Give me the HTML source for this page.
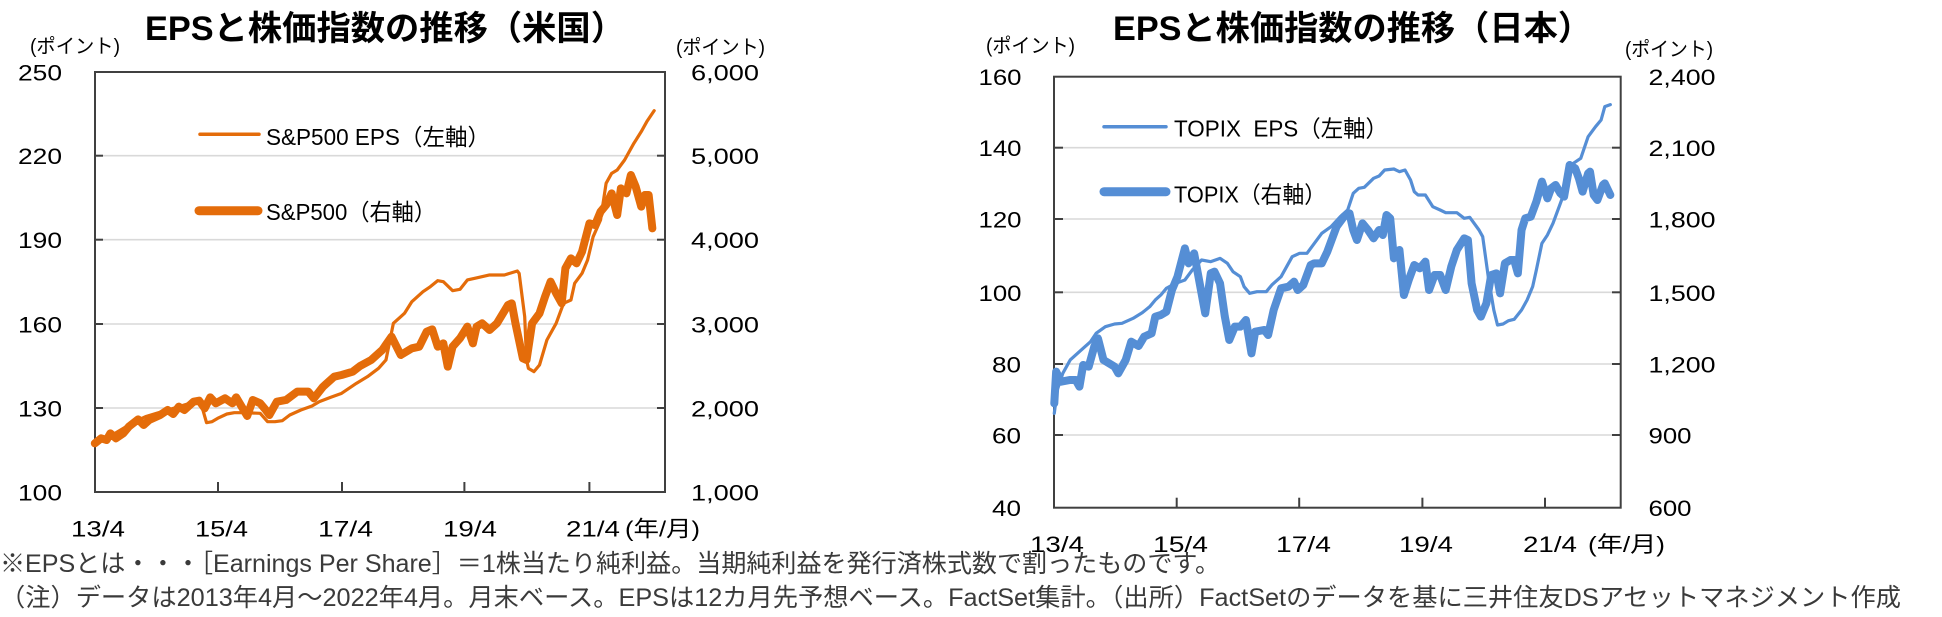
<!DOCTYPE html>
<html>
<head>
<meta charset="utf-8">
<style>
html,body{margin:0;padding:0;background:#fff;}
svg{display:block;}
text{font-family:"Liberation Sans","Noto Sans CJK JP",sans-serif;}
</style>
</head>
<body>
<svg width="1942" height="617" viewBox="0 0 1942 617" xmlns="http://www.w3.org/2000/svg">
<rect width="1942" height="617" fill="#fff"/>

<!-- ========== LEFT CHART ========== -->
<text x="145" y="40" font-size="34" font-weight="bold" fill="#000" textLength="480" lengthAdjust="spacingAndGlyphs">EPSと株価指数の推移（米国）</text>
<text x="30" y="53" font-size="20" fill="#000" textLength="90" lengthAdjust="spacingAndGlyphs">(ポイント)</text>
<text x="676" y="54" font-size="20" fill="#000" textLength="89" lengthAdjust="spacingAndGlyphs">(ポイント)</text>

<!-- gridlines -->
<g stroke="#D9D9D9" stroke-width="1.6">
<line x1="95" y1="155.7" x2="665" y2="155.7"/>
<line x1="95" y1="239.7" x2="665" y2="239.7"/>
<line x1="95" y1="324" x2="665" y2="324"/>
<line x1="95" y1="408" x2="665" y2="408"/>
</g>
<!-- ticks -->
<g stroke="#404040" stroke-width="2">
<line x1="95" y1="155.7" x2="103" y2="155.7"/>
<line x1="95" y1="239.7" x2="103" y2="239.7"/>
<line x1="95" y1="324" x2="103" y2="324"/>
<line x1="95" y1="408" x2="103" y2="408"/>
<line x1="657" y1="155.7" x2="665" y2="155.7"/>
<line x1="657" y1="239.7" x2="665" y2="239.7"/>
<line x1="657" y1="324" x2="665" y2="324"/>
<line x1="657" y1="408" x2="665" y2="408"/>
<line x1="218" y1="482" x2="218" y2="492"/>
<line x1="342" y1="482" x2="342" y2="492"/>
<line x1="464.4" y1="482" x2="464.4" y2="492"/>
<line x1="589.4" y1="482" x2="589.4" y2="492"/>
</g>
<rect x="95" y="72" width="570" height="420" fill="none" stroke="#404040" stroke-width="2"/>

<!-- left axis labels -->
<g font-size="22" fill="#000">
<text x="18" y="80.5" textLength="44" lengthAdjust="spacingAndGlyphs">250</text>
<text x="18" y="164.2" textLength="44" lengthAdjust="spacingAndGlyphs">220</text>
<text x="18" y="248.2" textLength="44" lengthAdjust="spacingAndGlyphs">190</text>
<text x="18" y="332.5" textLength="44" lengthAdjust="spacingAndGlyphs">160</text>
<text x="18" y="416.5" textLength="44" lengthAdjust="spacingAndGlyphs">130</text>
<text x="18" y="500.5" textLength="44" lengthAdjust="spacingAndGlyphs">100</text>
<text x="691" y="80.5" textLength="68" lengthAdjust="spacingAndGlyphs">6,000</text>
<text x="691" y="164.2" textLength="68" lengthAdjust="spacingAndGlyphs">5,000</text>
<text x="691" y="248.2" textLength="68" lengthAdjust="spacingAndGlyphs">4,000</text>
<text x="691" y="332.5" textLength="68" lengthAdjust="spacingAndGlyphs">3,000</text>
<text x="691" y="416.5" textLength="68" lengthAdjust="spacingAndGlyphs">2,000</text>
<text x="691" y="500.5" textLength="68" lengthAdjust="spacingAndGlyphs">1,000</text>
<text x="71" y="536.5" textLength="54" lengthAdjust="spacingAndGlyphs">13/4</text>
<text x="195" y="536.5" textLength="53" lengthAdjust="spacingAndGlyphs">15/4</text>
<text x="318" y="536.5" textLength="55" lengthAdjust="spacingAndGlyphs">17/4</text>
<text x="443" y="536.5" textLength="54" lengthAdjust="spacingAndGlyphs">19/4</text>
<text x="566" y="536.5" textLength="54" lengthAdjust="spacingAndGlyphs">21/4</text>
<text x="625" y="536.5" textLength="75" lengthAdjust="spacingAndGlyphs">(年/月)</text>
</g>

<!-- left series -->
<g transform="translate(90,60) scale(0.36996,0.33333)" fill="none" stroke="#E46C0A" stroke-linejoin="round" stroke-linecap="round">
<polyline vector-effect="non-scaling-stroke" stroke-width="8" points="13,1150 30,1135 45,1140 55,1120 70,1135 90,1120 105,1100 130,1078 145,1095 160,1080 190,1065 210,1050 225,1062 240,1040 255,1050 280,1025 295,1022 310,1045 325,1012 340,1030 365,1015 385,1030 395,1012 410,1040 425,1068 440,1020 460,1030 475,1050 485,1065 505,1025 530,1020 560,995 590,995 605,1015 630,980 660,950 680,945 710,935 730,918 760,900 790,870 815,830 840,885 870,865 890,860 910,815 925,808 940,860 955,850 967,920 980,860 1000,835 1020,800 1035,850 1045,800 1060,790 1080,810 1100,790 1130,735 1140,730 1150,790 1170,895 1180,900 1195,790 1215,760 1230,710 1245,665 1260,700 1275,730 1285,625 1300,595 1315,610 1330,575 1350,490 1365,495 1380,455 1395,435 1410,400 1425,465 1435,385 1450,400 1462,345 1475,380 1490,440 1500,405 1510,405 1520,505"/>
<polyline vector-effect="non-scaling-stroke" stroke-width="3.2" points="13,1150 40,1135 60,1125 90,1105 120,1085 150,1070 180,1060 210,1050 240,1040 270,1030 290,1025 300,1030 315,1088 330,1085 345,1075 370,1062 390,1058 420,1058 460,1060 480,1085 500,1085 520,1082 540,1065 570,1050 600,1038 620,1025 650,1012 680,1000 700,985 720,970 750,950 780,925 800,900 820,790 840,770 850,760 870,725 900,695 920,680 940,662 955,665 980,692 1000,688 1020,660 1040,655 1080,645 1120,645 1155,633 1160,640 1175,770 1180,900 1185,925 1200,935 1215,915 1235,840 1260,790 1280,730 1300,720 1310,670 1330,640 1345,600 1360,530 1380,480 1395,370 1410,340 1425,330 1445,300 1470,250 1490,215 1505,185 1525,152"/>
</g>

<!-- left legend -->
<line x1="200" y1="134.3" x2="259" y2="134.3" stroke="#E46C0A" stroke-width="3.5" stroke-linecap="round"/>
<text x="266" y="145" font-size="23" fill="#000" textLength="224" lengthAdjust="spacingAndGlyphs">S&amp;P500 EPS（左軸）</text>
<line x1="199" y1="210.7" x2="258" y2="210.7" stroke="#E46C0A" stroke-width="9" stroke-linecap="round"/>
<text x="266" y="220" font-size="23" fill="#000" textLength="170" lengthAdjust="spacingAndGlyphs">S&amp;P500（右軸）</text>

<!-- ========== RIGHT CHART ========== -->
<text x="1113" y="40" font-size="34" font-weight="bold" fill="#000" textLength="479" lengthAdjust="spacingAndGlyphs">EPSと株価指数の推移（日本）</text>
<text x="986" y="52.5" font-size="20" fill="#000" textLength="89" lengthAdjust="spacingAndGlyphs">(ポイント)</text>
<text x="1625" y="56" font-size="20" fill="#000" textLength="88" lengthAdjust="spacingAndGlyphs">(ポイント)</text>

<g stroke="#D9D9D9" stroke-width="1.6">
<line x1="1054" y1="147.7" x2="1621" y2="147.7"/>
<line x1="1054" y1="219" x2="1621" y2="219"/>
<line x1="1054" y1="292.3" x2="1621" y2="292.3"/>
<line x1="1054" y1="364" x2="1621" y2="364"/>
<line x1="1054" y1="435" x2="1621" y2="435"/>
</g>
<g stroke="#404040" stroke-width="2">
<line x1="1054" y1="147.7" x2="1063" y2="147.7"/>
<line x1="1054" y1="219" x2="1063" y2="219"/>
<line x1="1054" y1="292.3" x2="1063" y2="292.3"/>
<line x1="1054" y1="364" x2="1063" y2="364"/>
<line x1="1054" y1="435" x2="1063" y2="435"/>
<line x1="1612" y1="147.7" x2="1621" y2="147.7"/>
<line x1="1612" y1="219" x2="1621" y2="219"/>
<line x1="1612" y1="292.3" x2="1621" y2="292.3"/>
<line x1="1612" y1="364" x2="1621" y2="364"/>
<line x1="1612" y1="435" x2="1621" y2="435"/>
<line x1="1176.7" y1="497.7" x2="1176.7" y2="507.7"/>
<line x1="1299.2" y1="497.7" x2="1299.2" y2="507.7"/>
<line x1="1422.4" y1="497.7" x2="1422.4" y2="507.7"/>
<line x1="1545" y1="497.7" x2="1545" y2="507.7"/>
</g>
<rect x="1054" y="76.7" width="566.7" height="431" fill="none" stroke="#404040" stroke-width="2"/>

<g font-size="22" fill="#000">
<text x="978.5" y="85.2" textLength="43" lengthAdjust="spacingAndGlyphs">160</text>
<text x="978.5" y="156.2" textLength="43" lengthAdjust="spacingAndGlyphs">140</text>
<text x="978.5" y="227.5" textLength="43" lengthAdjust="spacingAndGlyphs">120</text>
<text x="978.5" y="300.8" textLength="43" lengthAdjust="spacingAndGlyphs">100</text>
<text x="992" y="372.5" textLength="29" lengthAdjust="spacingAndGlyphs">80</text>
<text x="992" y="443.5" textLength="29" lengthAdjust="spacingAndGlyphs">60</text>
<text x="992" y="516.2" textLength="29" lengthAdjust="spacingAndGlyphs">40</text>
<text x="1648.5" y="85.2" textLength="67" lengthAdjust="spacingAndGlyphs">2,400</text>
<text x="1648.5" y="156.2" textLength="67" lengthAdjust="spacingAndGlyphs">2,100</text>
<text x="1648.5" y="227.5" textLength="67" lengthAdjust="spacingAndGlyphs">1,800</text>
<text x="1648.5" y="300.8" textLength="67" lengthAdjust="spacingAndGlyphs">1,500</text>
<text x="1648.5" y="372.5" textLength="67" lengthAdjust="spacingAndGlyphs">1,200</text>
<text x="1648.5" y="443.5" textLength="43" lengthAdjust="spacingAndGlyphs">900</text>
<text x="1648.5" y="516.2" textLength="43" lengthAdjust="spacingAndGlyphs">600</text>
<text x="1030" y="552" textLength="54" lengthAdjust="spacingAndGlyphs">13/4</text>
<text x="1153" y="552" textLength="55" lengthAdjust="spacingAndGlyphs">15/4</text>
<text x="1276" y="552" textLength="55" lengthAdjust="spacingAndGlyphs">17/4</text>
<text x="1399" y="552" textLength="54" lengthAdjust="spacingAndGlyphs">19/4</text>
<text x="1523" y="552" textLength="54" lengthAdjust="spacingAndGlyphs">21/4</text>
<text x="1588" y="552" textLength="77" lengthAdjust="spacingAndGlyphs">(年/月)</text>
</g>

<g transform="translate(1048,70) scale(0.36996,0.33333)" fill="none" stroke="#558ED5" stroke-linejoin="round" stroke-linecap="round">
<polyline vector-effect="non-scaling-stroke" stroke-width="8" points="17,1000 22,905 35,935 60,930 75,930 85,950 95,885 110,890 125,830 135,805 150,870 165,880 180,890 190,910 210,870 225,815 245,828 260,800 280,790 290,740 305,735 320,725 335,660 350,620 370,535 380,580 395,550 410,640 425,730 440,610 450,605 465,640 478,740 490,810 505,770 520,770 535,750 550,850 560,785 585,780 595,795 610,720 630,655 650,650 665,635 675,660 690,645 710,585 720,580 740,580 755,545 780,470 800,440 815,430 825,480 835,510 850,460 865,480 880,505 895,480 905,495 915,435 925,445 935,565 950,540 962,675 975,630 990,585 1005,595 1020,575 1030,660 1045,615 1060,615 1075,660 1090,590 1105,540 1125,505 1135,510 1145,640 1160,720 1170,740 1185,700 1198,615 1212,610 1222,670 1235,580 1250,570 1260,570 1270,610 1280,480 1290,445 1305,440 1320,395 1335,335 1350,385 1360,355 1372,345 1385,370 1395,380 1410,285 1425,295 1435,325 1445,365 1460,310 1465,305 1475,375 1485,390 1500,345 1505,340 1520,375"/>
<polyline vector-effect="non-scaling-stroke" stroke-width="3.2" points="17,1030 25,960 40,910 60,870 90,840 115,815 130,790 155,770 180,762 200,760 230,745 255,728 275,710 290,690 305,675 320,655 345,640 370,630 390,600 415,570 440,575 465,565 485,580 500,605 520,620 530,650 545,670 565,665 590,665 605,645 630,620 660,560 680,550 700,550 720,520 740,490 765,470 790,440 810,420 825,370 840,355 855,352 880,325 895,318 910,300 935,297 950,305 965,300 980,330 990,365 1000,375 1020,375 1040,410 1060,420 1075,428 1105,428 1125,445 1140,442 1165,480 1175,500 1190,620 1205,720 1215,765 1230,762 1245,752 1260,748 1280,720 1295,690 1310,650 1320,600 1335,520 1350,495 1365,460 1385,400 1405,340 1420,280 1440,265 1460,200 1480,170 1495,150 1505,110 1520,104"/>
</g>

<line x1="1104" y1="126.7" x2="1166" y2="126.7" stroke="#558ED5" stroke-width="3.5" stroke-linecap="round"/>
<text x="1174" y="136.7" font-size="23" fill="#000" textLength="214" lengthAdjust="spacingAndGlyphs" xml:space="preserve">TOPIX  EPS（左軸）</text>
<line x1="1104" y1="191.7" x2="1166" y2="191.7" stroke="#558ED5" stroke-width="9" stroke-linecap="round"/>
<text x="1174" y="202.3" font-size="23" fill="#000" textLength="152" lengthAdjust="spacingAndGlyphs">TOPIX（右軸）</text>

<!-- ========== FOOTNOTES ========== -->
<text x="0" y="572" font-size="25" fill="#3a3a3a" textLength="1220" lengthAdjust="spacingAndGlyphs">※EPSとは・・・［Earnings Per Share］＝1株当たり純利益。当期純利益を発行済株式数で割ったものです。</text>
<text x="0" y="606" font-size="25" fill="#3a3a3a" textLength="1901" lengthAdjust="spacingAndGlyphs">（注）データは2013年4月～2022年4月。月末ベース。EPSは12カ月先予想ベース。FactSet集計。（出所）FactSetのデータを基に三井住友DSアセットマネジメント作成</text>
</svg>
</body>
</html>
